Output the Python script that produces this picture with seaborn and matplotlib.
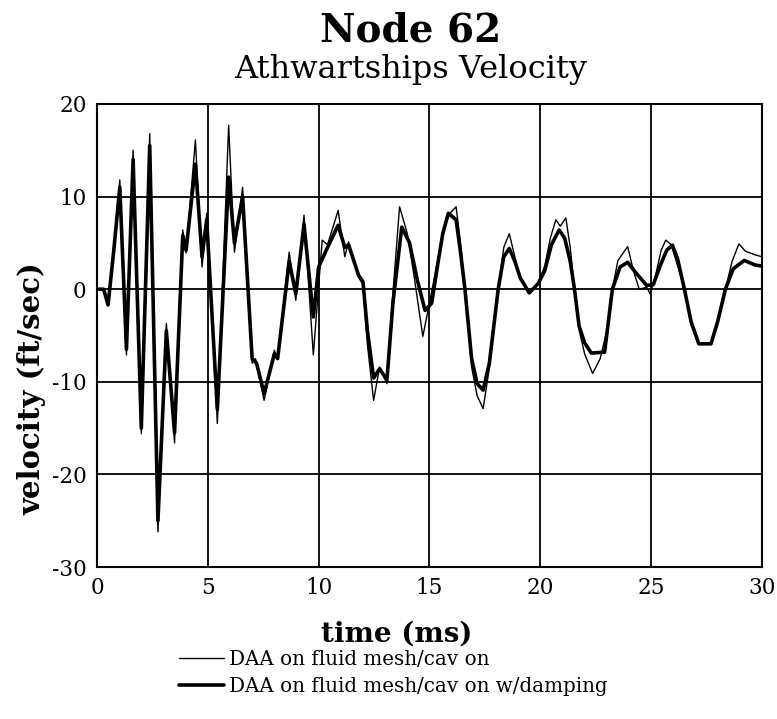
import pandas as pd
import seaborn as sns
import matplotlib.pyplot as plt

# DAA on fluid mesh/cav on  (thin line)
t_thin = [0, 0.3, 0.5, 0.75, 1.03, 1.33, 1.63, 2.0, 2.38, 2.75, 3.13, 3.5, 3.87, 4.02,
          4.44, 4.74, 4.95, 5.43, 5.94, 6.2, 6.57, 7.0, 7.15, 7.54, 8.0, 8.15, 8.67,
          8.97, 9.34, 9.76, 10.16, 10.4, 10.88, 11.18, 11.35, 11.8, 12.0, 12.2, 12.48,
          12.75, 13.08, 13.3, 13.65, 14.0, 14.3, 14.7, 15.0, 15.4, 15.77, 16.2, 16.4,
          16.6, 16.9, 17.15, 17.42, 17.7, 18.1, 18.35, 18.6, 18.85, 19.1, 19.5, 19.9,
          20.2, 20.45, 20.7, 20.9, 21.15, 21.35, 21.54, 21.75, 22.0, 22.36, 22.7, 23.0,
          23.25, 23.5, 23.94, 24.2, 24.46, 24.8, 24.95, 25.2, 25.45, 25.66, 25.9, 26.2,
          26.5, 26.8, 27.15, 27.7, 28.0, 28.35, 28.65, 28.96, 29.25, 29.7, 30]
v_thin = [0, 0, -1.7, 4, 11.8, -7.1, 15.0, -15.6, 16.8, -26.2, -3.7, -16.6, 6.4, 3.9,
          16.1, 2.4, 8.2, -14.5, 17.7, 4.0, 11.0, -8.0, -7.5, -12.0, -6.6, -7.5, 4.0,
          -1.2, 8.0, -7.1, 5.3, 4.8, 8.5, 3.5, 5.1, 1.3, 0.5, -6.0, -12.0,
          -8.4, -10.2, -2.0, 8.9, 6.0, 1.5, -5.1, -1.5, 3.5, 7.8, 8.9, 5.0,
          0, -8.4, -11.5, -12.9, -8.5, 0, 4.5, 6.0, 3.5, 1.0, -0.4, 0.6,
          2.5, 5.5, 7.5, 6.8, 7.7, 4.5, 0, -4.4, -7.0, -9.1, -7.5, -4.5,
          0, 3.1, 4.6, 2.0, 0, 0.2, -0.5, 1.5, 4.2, 5.3, 4.8, 2.5,
          0, -3.8, -5.9, -5.8, -3.5, 0, 3.0, 4.9, 4.1, 3.7, 3.5]

# DAA on fluid mesh/cav on w/damping  (thick line)
t_damp = [0, 0.3, 0.5, 0.75, 1.03, 1.33, 1.63, 2.0, 2.38, 2.75, 3.13, 3.5, 3.87, 4.02,
          4.44, 4.74, 4.95, 5.43, 5.94, 6.2, 6.57, 7.0, 7.2, 7.54, 8.0, 8.15, 8.67,
          8.97, 9.34, 9.76, 10.0, 10.4, 10.88, 11.18, 11.35, 11.8, 12.0, 12.2, 12.48,
          12.75, 13.08, 13.35, 13.75, 14.1, 14.45, 14.8, 15.1, 15.4, 15.6, 15.85, 16.2,
          16.4, 16.6, 16.9, 17.15, 17.42, 17.7, 18.1, 18.35, 18.6, 18.85, 19.1, 19.5,
          19.9, 20.2, 20.5, 20.85, 21.1, 21.35, 21.54, 21.75, 22.0, 22.3, 22.9, 23.25,
          23.6, 23.94, 24.3, 24.8, 25.1, 25.4, 25.7, 25.96, 26.2, 26.5, 26.8, 27.15,
          27.7, 28.0, 28.35, 28.7, 29.2, 29.7, 30]
v_damp = [0, 0, -1.7, 4, 11.0, -6.5, 14.0, -15.0, 15.5, -25.0, -4.5, -15.5, 5.8, 4.2,
          13.5, 3.5, 7.5, -13.0, 12.1, 5.0, 10.0, -7.5, -8.0, -11.3, -7.0, -7.5, 3.0,
          -0.5, 7.0, -3.0, 2.4, 4.5, 6.9, 4.5, 4.8, 1.5, 0.8, -4.5, -9.6,
          -8.6, -9.8, -1.5, 6.7, 5.0, 1.0, -2.3, -1.5, 3.1, 6.0, 8.2, 7.5,
          4.0, 0, -7.5, -10.2, -10.9, -8.0, 0, 3.5, 4.4, 3.0, 1.2, -0.4,
          0.6, 2.0, 4.8, 6.4, 5.5, 3.0, 0, -4.0, -5.8, -6.9, -6.8, 0,
          2.4, 2.9, 1.8, 0.4, 0.5, 2.5, 4.2, 4.75, 3.2, 0, -3.5, -5.9,
          -5.9, -3.5, 0, 2.2, 3.1, 2.6, 2.5]

x_ticks = [0, 5, 10, 15, 20, 25, 30]
y_ticks = [-30, -20, -10, 0, 10, 20]

labels = ["DAA on fluid mesh/cav on", "DAA on fluid mesh/cav on w/damping"]

sns.set_style("white")
plt.rcParams["font.family"] = ["DejaVu Serif"]
plt.rcParams["axes.unicode_minus"] = False
plt.rcParams["text.color"] = "black"
plt.rcParams["axes.labelcolor"] = "black"
plt.rcParams["xtick.color"] = "black"
plt.rcParams["ytick.color"] = "black"

fig = plt.figure(figsize=(7.77, 7.19), dpi=100)
ax = fig.add_axes([0.1248, 0.2114, 0.8559, 0.644])

df_thin = pd.DataFrame({"t": t_thin, "v": v_thin})
df_damp = pd.DataFrame({"t": t_damp, "v": v_damp})
sns.lineplot(data=df_thin, x="t", y="v", ax=ax, color="black", linewidth=1.0,
             label=labels[0], sort=False)
sns.lineplot(data=df_damp, x="t", y="v", ax=ax, color="black", linewidth=2.6,
             label=labels[1], sort=False)

ax.set_xlim(0, 30)
ax.set_ylim(-30, 20)
ax.set_xticks(x_ticks)
ax.set_yticks(y_ticks)
ax.grid(True, color="black", linewidth=1.3)
for s in ax.spines.values():
    s.set_color("black")
    s.set_linewidth(1.5)
ax.tick_params(axis="both", labelsize=15.5, direction="inout", length=8, width=1.3,
               color="black")

ax.set_xlabel("time (ms)", fontsize=20, fontweight="bold")
ax.xaxis.set_label_coords(0.45, -0.145)
ax.xaxis.label.set_va("center")
ax.set_ylabel("velocity (ft/sec)", fontsize=21, fontweight="bold")
ax.yaxis.set_label_coords(-0.098, 0.385)
ax.yaxis.label.set_va("center")

fig.text(0.529, 0.957, "Node 62", ha="center", va="center", fontsize=28,
         fontweight="bold", family=["DejaVu Serif"])
fig.text(0.529, 0.904, "Athwartships Velocity", ha="center", va="center", fontsize=23,
         family=["DejaVu Serif"])

ax.get_legend().remove()
handles, labs = ax.get_legend_handles_labels()
fig.legend(handles, labs, loc="upper left", bbox_to_anchor=(0.217, 0.11),
           frameon=False, fontsize=14.3, handlelength=2.3, handletextpad=0.25,
           labelspacing=0.4, borderpad=0)

fig.savefig("out.png", dpi=100)
